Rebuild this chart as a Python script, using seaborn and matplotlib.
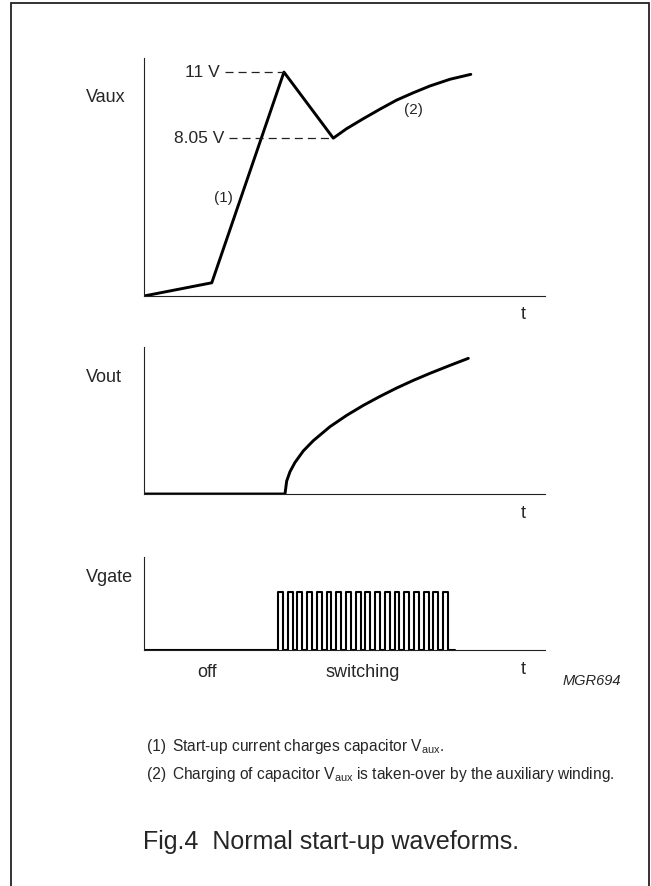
import matplotlib
matplotlib.use('Agg')
from matplotlib import pyplot as plt
from matplotlib.patches import Rectangle
import seaborn as sns

# time axis is arbitrary (0..10), values are schematic
vaux_t = [0.0, 1.69, 3.49, 4.72, 5.05, 5.47, 5.89, 6.30, 6.72, 7.13, 7.63, 8.15]
vaux_v = [1.0, 1.59, 11.0, 8.05, 8.47, 8.92, 9.35, 9.75, 10.08, 10.38, 10.68, 10.9]
vaux_marks = [11.0, 8.05]
vaux_mark_labels = ["11 V", "8.05 V"]
vaux_mark_start = [2.02, 2.12]
vaux_mark_end = [3.49, 4.72]

vout_t = [0.0, 3.516, 3.558, 3.641, 3.766, 3.973, 4.223, 4.638, 5.054, 5.470,
          5.885, 6.301, 6.716, 7.132, 7.631, 8.088]
vout_v = [0.0, 0.0, 0.088, 0.152, 0.215, 0.293, 0.363, 0.458, 0.535, 0.603,
          0.664, 0.721, 0.773, 0.821, 0.875, 0.923]

gate_on = 3.34
gate_off = 7.58
gate_end = 7.76
n_pulses = 18
gate_high = 0.624
gate_labels = ["off", "switching"]
gate_label_t = [1.57, 5.45]

notes = ["Start-up current charges capacitor V$_{\\mathregular{aux}}$.",
         "Charging of capacitor V$_{\\mathregular{aux}}$ is taken-over by the auxiliary winding."]
title = "Fig.4  Normal start-up waveforms."

sns.set_style("white")
plt.rcParams['font.family'] = ['Liberation Sans', 'DejaVu Sans']
plt.rcParams['lines.scale_dashes'] = False

W, H = 651, 886
fig = plt.figure(figsize=(W / 100, H / 100), dpi=100)


def fx(px):
    return px / W


def fy(py):
    return 1 - py / H


def make_axes(top, bottom):
    ax = fig.add_axes([fx(144), fy(bottom), fx(545) - fx(144), fy(top) - fy(bottom)])
    ax.set_xlim(0, 10)
    sns.despine(ax=ax)
    for s in ["left", "bottom"]:
        ax.spines[s].set_linewidth(0.8)
        ax.spines[s].set_color("#222222")
    ax.set_xticks([])
    ax.set_yticks([])
    ax.patch.set_alpha(0)
    return ax


# Vaux
ax1 = make_axes(58, 296)
sns.lineplot(x=vaux_t, y=vaux_v, ax=ax1, color="black", lw=2.1, sort=False, estimator=None)
ax1.set_ylim(1.0, 11.63)
for v, lab, t0, t1 in zip(vaux_marks, vaux_mark_labels, vaux_mark_start, vaux_mark_end):
    ax1.plot([t0, t1], [v, v], color="#222222", lw=0.9, dashes=(5.8, 3.6))
    ax1.text(t0 - 0.12, v, lab, ha="right", va="center", fontsize=12.5)
ax1.text(1.98, 5.36, "(1)", ha="center", va="center", fontsize=11)
ax1.text(6.73, 9.31, "(2)", ha="center", va="center", fontsize=11)

# Vout
ax2 = make_axes(347, 494)
sns.lineplot(x=vout_t, y=vout_v, ax=ax2, color="black", lw=2.1, sort=False, estimator=None)
ax2.set_ylim(0, 1)

# Vgate
half = (gate_off - gate_on) / (2 * n_pulses - 1)
gt, gv = [0.0], [0.0]
for i in range(n_pulses):
    r = gate_on + 2 * i * half
    f = r + half
    gt += [r, r, f, f]
    gv += [0.0, gate_high, gate_high, 0.0]
gt.append(gate_end)
gv.append(0.0)
ax3 = make_axes(557, 650)
sns.lineplot(x=gt, y=gv, ax=ax3, color="black", lw=1.5, sort=False, estimator=None)
ax3.set_ylim(0, 1)
for lab, t in zip(gate_labels, gate_label_t):
    ax3.text(t, -0.24, lab, ha="center", va="center", fontsize=13)

# y labels and t labels
for lab, py in [("Vaux", 97), ("Vout", 378), ("Vgate", 578)]:
    fig.text(fx(86), fy(py), lab, ha="left", va="center", fontsize=13)
for py in [315, 513, 670]:
    fig.text(fx(523), fy(py), "t", ha="center", va="center", fontsize=13)
fig.text(fx(563), fy(681), "MGR694", ha="left", va="center", fontsize=10.5, style="italic")

# notes and caption
for i, (n, py) in enumerate(zip(notes, [746, 775])):
    fig.text(fx(147), fy(py), f"({i + 1})", ha="left", va="center", fontsize=11.2)
    fig.text(fx(172), fy(py), n, ha="left", va="center", fontsize=11.2)
fig.text(fx(143), fy(842), title, ha="left", va="center", fontsize=18)

# frame
fig.patches.append(Rectangle((fx(11), fy(920)), fx(649) - fx(11), fy(3) - fy(920),
                             transform=fig.transFigure, fill=False, lw=1.3, ec="#222222"))

fig.savefig("out.png", dpi=100)
